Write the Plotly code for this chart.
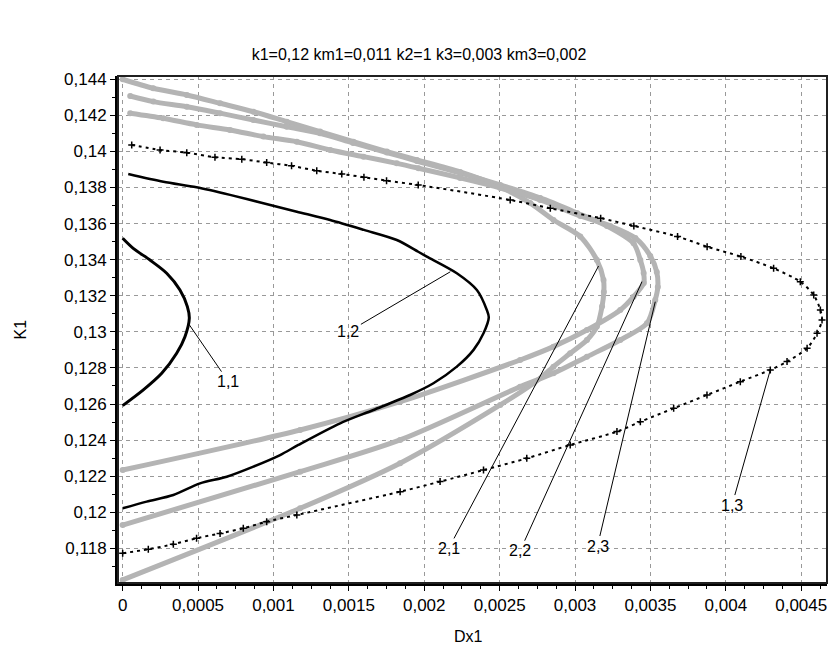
import plotly.graph_objects as go

# ---------------- data ----------------
title_text = "k1=0,12 km1=0,011 k2=1 k3=0,003 km3=0,002"

x_ticks = [0, 0.0005, 0.001, 0.0015, 0.002, 0.0025, 0.003, 0.0035, 0.004, 0.0045]
x_ticktext = ["0", "0,0005", "0,001", "0,0015", "0,002", "0,0025", "0,003", "0,0035", "0,004", "0,0045"]
y_ticks = [0.118, 0.12, 0.122, 0.124, 0.126, 0.128, 0.13, 0.132, 0.134, 0.136, 0.138, 0.14, 0.142, 0.144]
y_ticktext = ["0,118", "0,12", "0,122", "0,124", "0,126", "0,128", "0,13", "0,132", "0,134",
              "0,136", "0,138", "0,14", "0,142", "0,144"]

# curve 1,1
c11_x = [0, 0.00007, 0.000181, 0.000292, 0.00038, 0.000429, 0.000442, 0.000413, 0.000358,
         0.000259, 0.000137, 0]
c11_y = [0.13519, 0.13463, 0.13398, 0.13325, 0.13232, 0.1314, 0.13075, 0.12973, 0.12881,
         0.1277, 0.12678, 0.12591]

# curve 1,2
c12_x = [0.000037, 0.00027, 0.00049, 0.000712, 0.000933, 0.001155, 0.001376, 0.0016, 0.001818,
         0.00196, 0.002017, 0.002216, 0.002349, 0.002415, 0.002428, 0.002393, 0.002327, 0.002216,
         0.002061, 0.001906, 0.001663, 0.001442, 0.001165, 0.001044, 0.000867, 0.00069, 0.000513,
         0.000336, 0.000159, 0]
c12_y = [0.13875, 0.13832, 0.13801, 0.13759, 0.13713, 0.13666, 0.1362, 0.13565, 0.13509,
         0.13444, 0.13417, 0.13325, 0.13232, 0.13121, 0.1308, 0.12992, 0.129, 0.12807,
         0.12715, 0.1265, 0.12567, 0.12493, 0.12373, 0.12317, 0.12253, 0.12197, 0.1216,
         0.12096, 0.12059, 0.12022]

# curve 1,3
c13_x = [0.00006, 0.000248, 0.000425, 0.000612, 0.00079, 0.000955, 0.00112, 0.001287, 0.001453,
         0.0016, 0.00175, 0.00196, 0.00257, 0.002836, 0.00317, 0.00339, 0.00368, 0.003876,
         0.0041, 0.004317, 0.004494, 0.004583, 0.004627, 0.004638, 0.004605, 0.004539, 0.004406,
         0.004295, 0.004096, 0.003875, 0.003654, 0.003433, 0.003278, 0.002968, 0.00268, 0.002393,
         0.002105, 0.00184, 0.001155, 0.000955, 0.0008, 0.000646, 0.00049, 0.000336, 0.00017, 0]
c13_y = [0.14036, 0.14008, 0.13993, 0.13968, 0.13957, 0.13938, 0.1392, 0.13893, 0.13875,
         0.13857, 0.13838, 0.13814, 0.13731, 0.13685, 0.1363, 0.13587, 0.13528, 0.13472,
         0.13417, 0.13352, 0.13278, 0.13204, 0.13121, 0.13066, 0.12992, 0.12909, 0.12835,
         0.12789, 0.12724, 0.1265, 0.12576, 0.12502, 0.12447, 0.12373, 0.12299, 0.12234,
         0.1217, 0.12114, 0.11985, 0.11948, 0.11911, 0.11883, 0.11856, 0.11823, 0.11795, 0.11773]

# curve 2,1
c21_x = [0, 0.000203, 0.000425, 0.000646, 0.000867, 0.001088, 0.001309, 0.00153, 0.001752,
         0.001951, 0.002238, 0.002504, 0.002703, 0.002857, 0.003035, 0.003145, 0.003189, 0.003191,
         0.003179, 0.003145, 0.003079, 0.002968, 0.002857, 0.002725, 0.002504, 0.00184, 0.001177, 0]
c21_y = [0.144, 0.1435, 0.14313, 0.14267, 0.1422, 0.14165, 0.1411, 0.14054, 0.13999,
         0.13953, 0.13886, 0.13803, 0.13714, 0.1362, 0.13528, 0.13398, 0.13288, 0.13221,
         0.1314, 0.13029, 0.12955, 0.12881, 0.12807, 0.12715, 0.12595, 0.12272, 0.12022, 0.11625]

# curve 2,2
c22_x = [0.00005, 0.000203, 0.000425, 0.000646, 0.000867, 0.001088, 0.001309, 0.001528, 0.001752,
         0.001951, 0.002238, 0.002504, 0.002769, 0.003013, 0.003212, 0.003388, 0.003433, 0.003455,
         0.003456, 0.003388, 0.0033, 0.003079, 0.002857, 0.002636, 0.00184, 0.001177, 0]
c22_y = [0.14307, 0.14276, 0.14248, 0.14212, 0.14174, 0.14137, 0.14101, 0.14047, 0.13994,
         0.13947, 0.13881, 0.13814, 0.13742, 0.13659, 0.13587, 0.13491, 0.13398, 0.13326,
         0.13271, 0.13195, 0.13121, 0.1301, 0.12918, 0.12844, 0.12613, 0.12456, 0.12234]

# curve 2,3
c23_x = [0.00005, 0.000269, 0.000491, 0.000712, 0.000933, 0.001155, 0.001376, 0.001597, 0.001818,
         0.001962, 0.002238, 0.002504, 0.002769, 0.003035, 0.003234, 0.0034, 0.003499, 0.003542,
         0.003549, 0.003532, 0.003477, 0.0033, 0.003079, 0.002857, 0.002636, 0.00184, 0.001177, 0]
c23_y = [0.14212, 0.14184, 0.14147, 0.14119, 0.14082, 0.14054, 0.14008, 0.13971, 0.13934,
         0.13907, 0.13853, 0.13797, 0.13731, 0.13642, 0.13587, 0.1352, 0.13421, 0.13332,
         0.13249, 0.13177, 0.13048, 0.12955, 0.12862, 0.1277, 0.12696, 0.12401, 0.12225, 0.11929]

# curve labels: text, point on curve, text position
label_text = ["1,1", "1,2", "2,1", "2,2", "2,3", "1,3"]
label_px = [0.000442, 0.002173, 0.003156, 0.003444, 0.003532, 0.004295]
label_py = [0.13039, 0.13333, 0.13365, 0.13278, 0.13167, 0.12789]
label_tx = [0.000701, 0.001497, 0.002162, 0.002636, 0.003149, 0.004041]
label_ty = [0.12724, 0.13001, 0.117997, 0.11787, 0.11813, 0.1204]

# ---------------- figure ----------------
FONT = "Liberation Sans, Arial, sans-serif"
GRAY = "#b4b4b4"

fig = go.Figure()

for xs, ys in [(c21_x, c21_y), (c22_x, c22_y), (c23_x, c23_y)]:
    fig.add_trace(go.Scatter(x=xs, y=ys, mode="lines+markers",
                             line=dict(color=GRAY, width=5, shape="spline", smoothing=0.8),
                             marker=dict(color=GRAY, size=6, symbol="circle"),
                             hoverinfo="skip"))

fig.add_trace(go.Scatter(x=c13_x, y=c13_y, mode="lines+markers",
                         line=dict(color="black", width=2, dash="3px,4px",
                                   shape="spline", smoothing=0.8),
                         marker=dict(color="black", size=5, symbol="cross-thin",
                                     line=dict(color="black", width=1.5)),
                         hoverinfo="skip"))
fig.add_trace(go.Scatter(x=c12_x, y=c12_y, mode="lines",
                         line=dict(color="black", width=2.5, shape="spline", smoothing=0.8),
                         hoverinfo="skip"))
fig.add_trace(go.Scatter(x=c11_x, y=c11_y, mode="lines",
                         line=dict(color="black", width=3, shape="spline", smoothing=0.8),
                         hoverinfo="skip"))

annotations = []
for t, hx, hy, tx, ty in zip(label_text, label_px, label_py, label_tx, label_ty):
    annotations.append(dict(x=hx, y=hy, xref="x", yref="y", ax=tx, ay=ty, axref="x", ayref="y",
                            text=t, showarrow=True, arrowhead=0, arrowwidth=1, arrowcolor="black",
                            standoff=0, font=dict(family=FONT, size=16, color="black")))
annotations.append(dict(x=0.495, y=0, xref="paper", yref="paper", yshift=-53, text="Dx1",
                        showarrow=False, xanchor="center", yanchor="middle",
                        font=dict(family=FONT, size=16, color="black")))
annotations.append(dict(x=0, y=0.5, xref="paper", yref="paper", xshift=-98, text="K1",
                        textangle=-90, showarrow=False, xanchor="center", yanchor="middle",
                        font=dict(family=FONT, size=16, color="black")))

fig.update_layout(
    width=838, height=659,
    margin=dict(l=118, r=11, t=76, b=76),
    paper_bgcolor="white", plot_bgcolor="white",
    showlegend=False,
    title=dict(text=title_text, x=0.5, xanchor="center", y=1 - 54 / 659, yanchor="middle",
               font=dict(family=FONT, size=16, color="black")),
    font=dict(family=FONT, size=17, color="black"),
    annotations=annotations,
    shapes=[dict(type="rect", xref="paper", yref="paper", x0=0, y0=0, x1=1, y1=1,
                 line=dict(color="#202020", width=2), layer="above")],
)

fig.update_xaxes(range=[-0.000031, 0.004671], tickvals=x_ticks, ticktext=x_ticktext,
                 showgrid=True, gridcolor="#999999", griddash="4px,4px", gridwidth=1,
                 zeroline=False, showline=True, linecolor="black", linewidth=3,
                 ticks="outside", ticklen=5, tickcolor="black",
                 minor=dict(ticks="outside", ticklen=3, dtick=0.000125, tick0=0,
                            tickcolor="black", showgrid=False),
                 tickfont=dict(family=FONT, size=17, color="black"))
fig.update_yaxes(range=[0.11608, 0.14418], tickvals=y_ticks, ticktext=y_ticktext,
                 showgrid=True, gridcolor="#999999", griddash="4px,4px", gridwidth=1,
                 zeroline=False, showline=True, linecolor="black", linewidth=3,
                 ticks="outside", ticklen=5, tickcolor="black",
                 minor=dict(ticks="outside", ticklen=3, dtick=0.001, tick0=0.118,
                            tickcolor="black", showgrid=False),
                 tickfont=dict(family=FONT, size=17, color="black"))

fig.write_html("out.html")
